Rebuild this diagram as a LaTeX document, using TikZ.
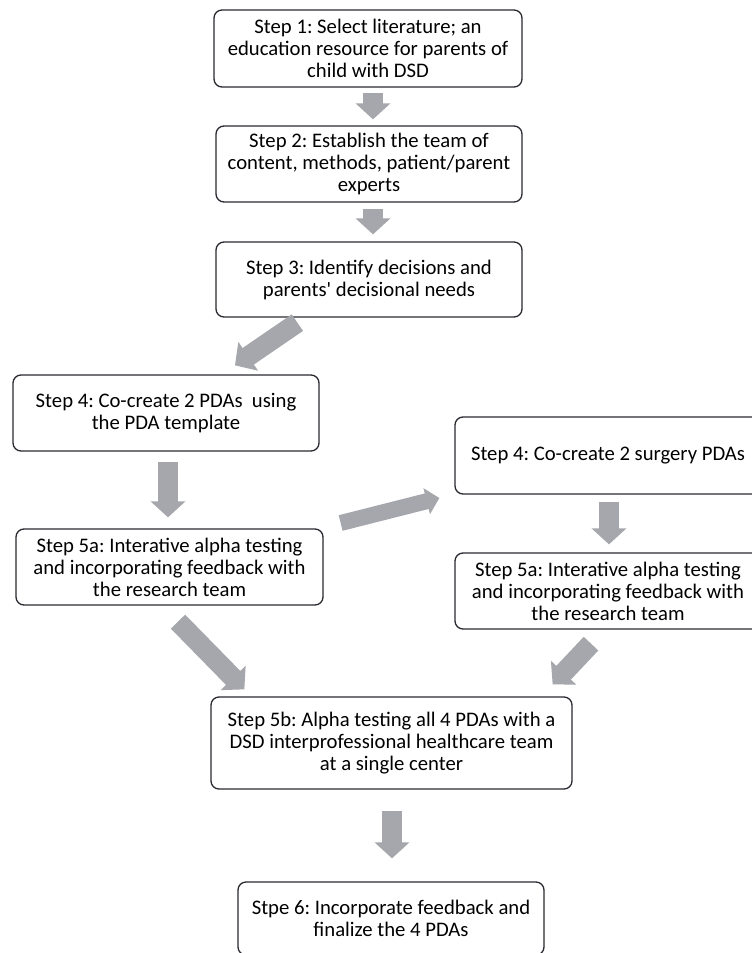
\documentclass[tikz,border=0pt]{standalone}
\usepackage{fontspec}
\setmainfont{Carlito}
\usetikzlibrary{arrows.meta}
\definecolor{arrowgray}{RGB}{165,167,172}
\definecolor{boxline}{RGB}{40,42,48}
\tikzset{
  stepbox/.style={draw=boxline,line width=1.3pt,rounded corners=8pt,align=center,
    inner sep=0pt,font=\fontsize{20.7}{22}\selectfont},
  flow/.style={draw=arrowgray,line width=20pt,-{Triangle[length=16pt,width=34pt]}},
  thinflow/.style={draw=arrowgray,line width=16pt,-{Triangle[length=13pt,width=26pt]}}
}
\frenchspacing
\begin{document}
\begin{tikzpicture}[x=1pt,y=-1pt]
\clip (0,0) rectangle (752,953);
\fill[white] (0,0) rectangle (752,953);
\node[stepbox,minimum width=308pt,minimum height=77pt] (s1) at (368,48.5) {Step 1: Select literature; an\\education resource for parents of\\child with DSD};
\node[stepbox,minimum width=306pt,minimum height=76pt] (s2) at (369,164) {Step 2: Establish the team of\\content, methods, patient/parent\\experts};
\node[stepbox,minimum width=306pt,minimum height=75pt] (s3) at (369,279.5) {Step 3: Identify decisions and\\parents\textquotesingle{} decisional needs};
\node[stepbox,minimum width=306pt,minimum height=76pt] (s4L) at (166,413) {Step 4: Co-create 2 PDAs\ \ using\\the PDA template};
\node[stepbox,minimum width=307pt,minimum height=76pt] (s5aL) at (169.5,567) {Step 5a: Interative alpha testing\\and incorporating feedback with\\the research team};
\node[stepbox,minimum width=306pt,minimum height=77pt] (s4R) at (608,455.5) {Step 4: Co-create 2 surgery PDAs};
\node[stepbox,minimum width=306pt,minimum height=76pt] (s5aR) at (608,591) {Step 5a: Interative alpha testing\\and incorporating feedback with\\the research team};
\node[stepbox,minimum width=361pt,minimum height=92pt] (s5b) at (391.5,743) {Step 5b: Alpha testing all 4 PDAs with a\\DSD interprofessional healthcare team\\at a single center};
\node[stepbox,minimum width=306pt,minimum height=73pt] (s6) at (391,918.5) {Stpe 6: Incorporate feedback and\\finalize the 4 PDAs};
\draw[flow] ([xshift=5pt,yshift=-5pt]s1.south) -- ([xshift=4pt,yshift=6pt]s2.north);
\draw[flow] ([xshift=4pt,yshift=-6pt]s2.south) -- ([xshift=4pt,yshift=7pt]s3.north);
\draw[flow] ([xshift=82pt,yshift=-5pt]s3.south west) -- ([xshift=69pt,yshift=9pt]s4L.north);
\draw[flow] ([xshift=2pt,yshift=-10pt]s4L.south) -- ([xshift=-1.5pt,yshift=11pt]s5aL.north);
\draw[thinflow] ([xshift=17pt,yshift=44pt]s5aL.east) -- ([xshift=-15pt,yshift=-42.5pt]s4R.west);
\draw[flow] ([xshift=1pt,yshift=-7pt]s4R.south) -- ([xshift=1pt,yshift=8pt]s5aR.north);
\draw[flow] ([xshift=8.5pt,yshift=-16pt]s5aL.south) -- ([xshift=34pt,yshift=7pt]s5b.north west);
\draw[flow] ([xshift=-17pt,yshift=-14pt]s5aR.south) -- ([xshift=-20pt,yshift=12pt]s5b.north east);
\draw[flow] ([xshift=0.5pt,yshift=-21pt]s5b.south) -- ([xshift=1pt,yshift=23pt]s6.north);
\end{tikzpicture}
\end{document}
